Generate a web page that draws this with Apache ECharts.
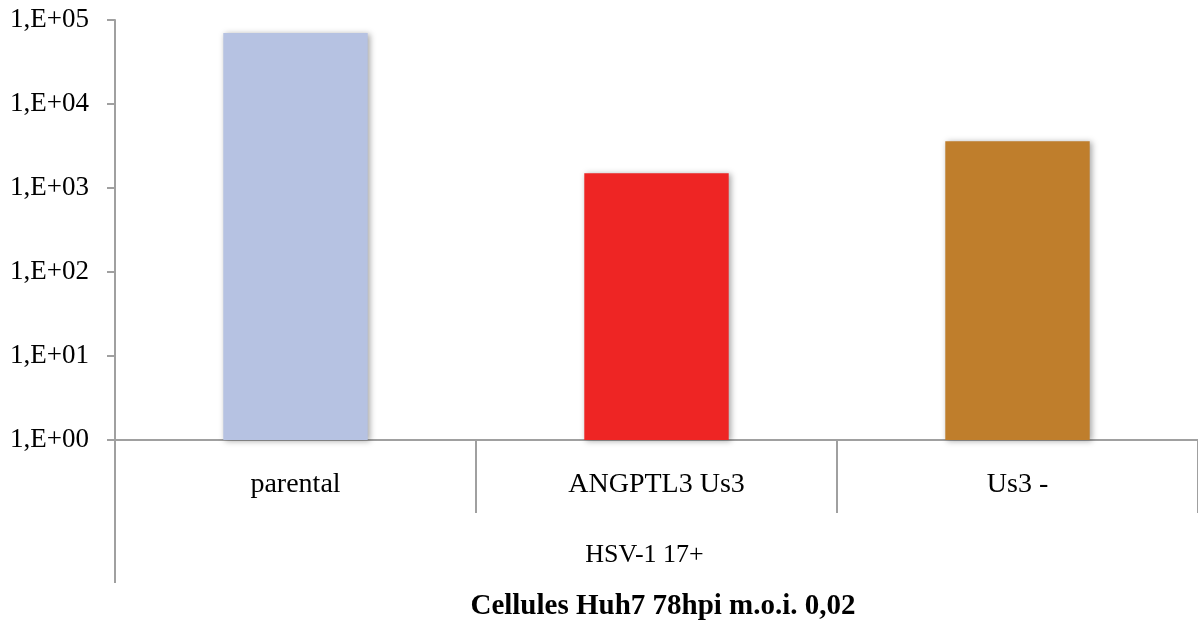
<!DOCTYPE html>
<html>
<head>
<meta charset="utf-8">
<script src="https://cdn.jsdelivr.net/npm/echarts@6/dist/echarts.min.js"></script>
<style>
html,body{margin:0;padding:0;background:#fff;}
#c{width:1198px;height:623px;}
</style>
</head>
<body>
<div id="c"></div>
<script>
const categories = ['parental', 'ANGPTL3 Us3', 'Us3 -'];
const values = [70000, 1500, 3600];
const barColors = ['#B6C2E2', '#EE2524', '#BF7E2C'];
const groupLabel = 'HSV-1 17+';
const chartTitle = 'Cellules Huh7 78hpi m.o.i. 0,02';

const FONT = '"Liberation Serif", "DejaVu Serif", serif';
const AXIS = '#A0A0A0';

const chart = echarts.init(document.getElementById('c'));
chart.setOption({
  animation: false,
  backgroundColor: '#fff',
  grid: { left: 115, right: 0, top: 20, bottom: 183, containLabel: false },
  xAxis: {
    type: 'category',
    data: categories,
    boundaryGap: true,
    name: groupLabel,
    nameLocation: 'middle',
    nameGap: 102,
    nameTextStyle: { fontFamily: FONT, fontSize: 26, color: '#000', padding: [0, 24, 0, 0] },
    axisLine: { lineStyle: { color: AXIS, width: 2 } },
    axisTick: { show: true, length: 73, interval: 0, lineStyle: { color: AXIS, width: 2 } },
    axisLabel: { fontFamily: FONT, fontSize: 28, color: '#000', margin: 31, interval: 0 }
  },
  yAxis: {
    type: 'log',
    logBase: 10,
    min: 1,
    max: 100000,
    axisLine: { show: true, lineStyle: { color: AXIS, width: 2 } },
    axisTick: { show: true, length: 8, lineStyle: { color: AXIS, width: 2 } },
    splitLine: { show: false },
    axisLabel: {
      fontFamily: FONT, fontSize: 27, color: '#000', margin: 26,
      formatter: function (v) {
        const e = Math.round(Math.log10(v));
        return '1,E+' + (e < 10 ? '0' : '') + e;
      }
    }
  },
  series: [{
    type: 'bar',
    barWidth: '40%',
    data: values.map((v, i) => ({
      value: v,
      itemStyle: {
        color: barColors[i],
        shadowColor: 'rgba(0,0,0,0.35)',
        shadowBlur: 6,
        shadowOffsetX: 2,
        shadowOffsetY: 1
      }
    }))
  }]
});

// extend the left axis line below the category area, and bottom title
const p0 = chart.convertToPixel({ xAxisIndex: 0, yAxisIndex: 0 }, [0, 1]);
const leftX = 115;
chart.setOption({
  graphic: [{
    type: 'line',
    shape: { x1: leftX, y1: p0[1], x2: leftX, y2: p0[1] + 143 },
    style: { stroke: AXIS, lineWidth: 2 }
  }, {
    type: 'text',
    x: 663,
    y: 607,
    style: {
      text: chartTitle,
      font: 'bold 29px ' + FONT,
      fill: '#000',
      textAlign: 'center',
      textVerticalAlign: 'middle'
    }
  }]
});
</script>
</body>
</html>
